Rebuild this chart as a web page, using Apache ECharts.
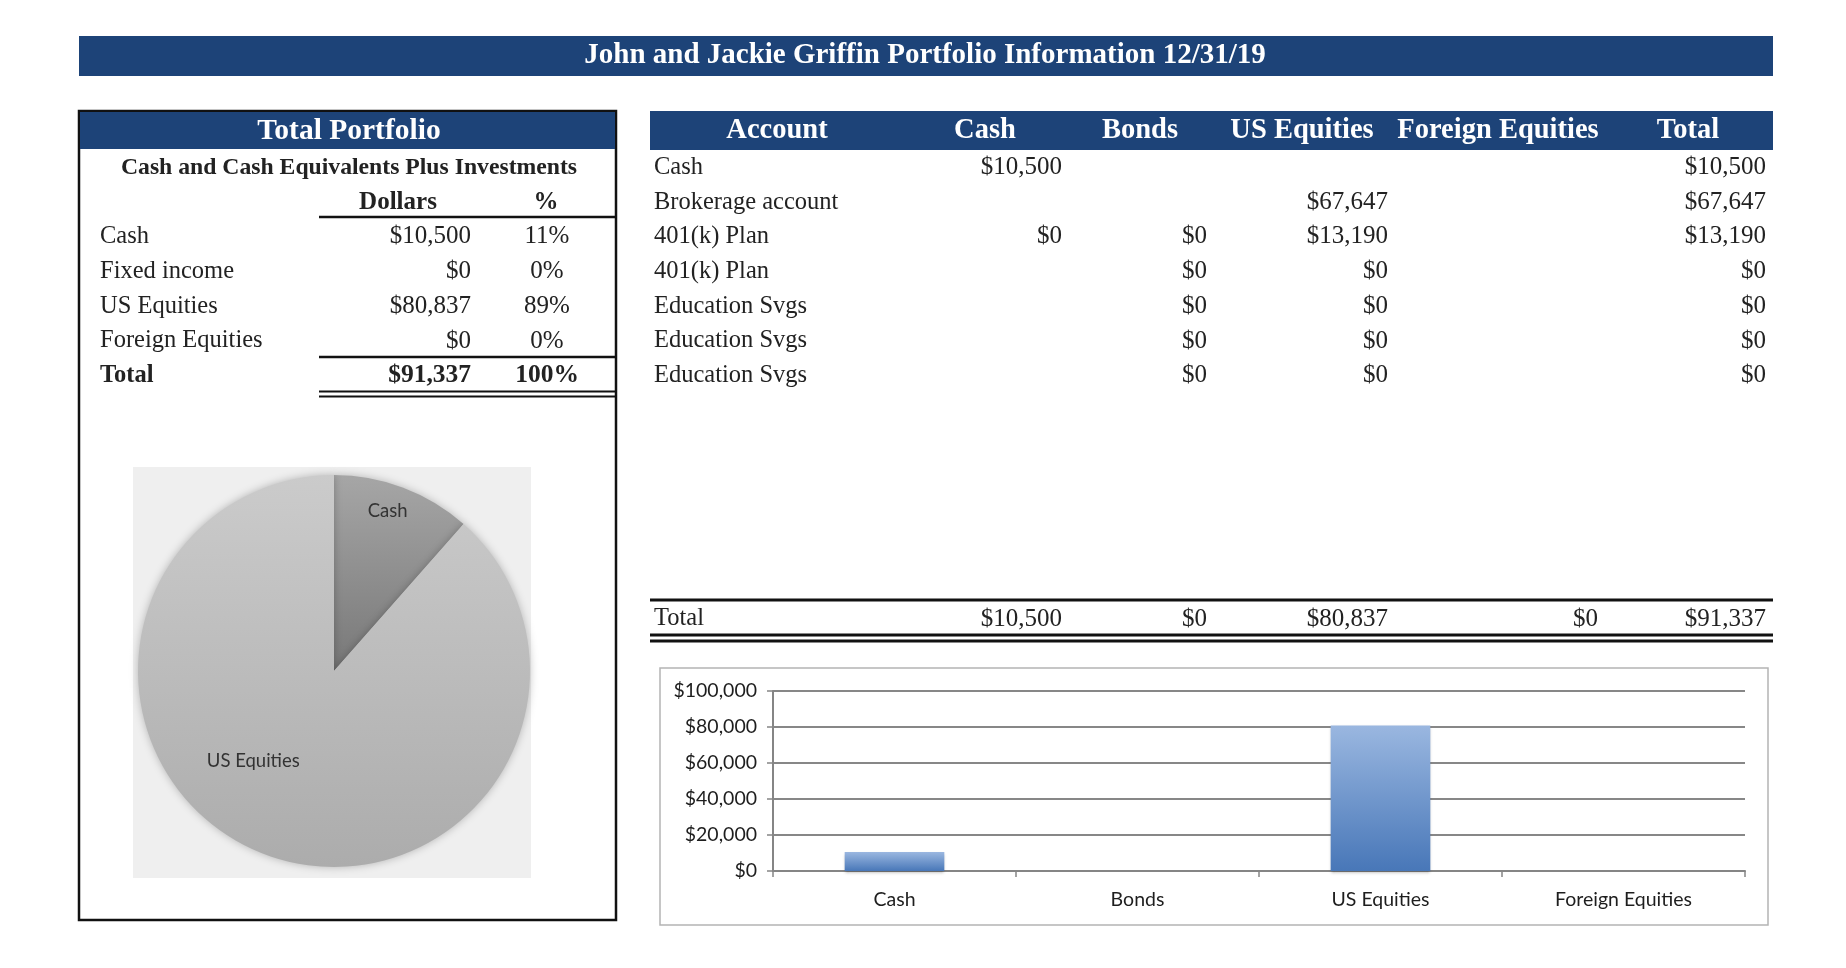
<!DOCTYPE html>
<html>
<head>
<meta charset="utf-8">
<script src="https://cdn.jsdelivr.net/npm/echarts@6/dist/echarts.min.js"></script>
<style>
    html, body { margin: 0; padding: 0; background: #fff; }
    #main { width: 1846px; height: 968px; }
</style>
</head>
<body>
<div id="main"></div>
<script type="text/javascript">
// asset allocation (left table, pie, bars)
var assetClasses = ['Cash', 'Fixed income', 'US Equities', 'Foreign Equities'];
var assetDollars = [10500, 0, 80837, 0];

// accounts table
var accounts = ['Cash', 'Brokerage account', '401(k) Plan', '401(k) Plan', 'Education Svgs', 'Education Svgs', 'Education Svgs'];
var acctCash = [10500, null, 0, null, null, null, null];
var acctBonds = [null, null, 0, 0, 0, 0, 0];
var acctUsEquities = [null, 67647, 13190, 0, 0, 0, 0];
var acctForeign = [null, null, null, null, null, null, null];
var acctTotal = [10500, 67647, 13190, 0, 0, 0, 0];
var tableHeads = ['Account', 'Cash', 'Bonds', 'US Equities', 'Foreign Equities', 'Total'];

// bar chart
var barCategories = ['Cash', 'Bonds', 'US Equities', 'Foreign Equities'];
var barValues = [10500, 0, 80837, 0];

var BLUE = '#1d4378';
var SERIF = '"Liberation Serif", "DejaVu Serif", serif';
var SANS = 'Lato, "Open Sans", sans-serif';

function money(v) {
    return '$' + Math.round(v).toString().replace(/\B(?=(\d{3})+(?!\d))/g, ',');
}
function sum(a) {
    return a.reduce(function (s, v) { return s + (v || 0); }, 0);
}

var g = [];
function txt(x, y, s, opt) {
    opt = opt || {};
    var al = opt.align || 'left';
    g.push({
        type: 'text', z: 10,
        style: {
            text: s, x: x, y: y,
            font: (opt.bold ? 'bold ' : '') + (opt.size || 24) + 'px ' + (opt.family || SERIF),
            fill: opt.color || '#222',
            align: al, textAlign: al,
            verticalAlign: 'middle', textVerticalAlign: 'middle'
        }
    });
}
function hline(x1, x2, y, w, c) {
    g.push({ type: 'line', z: 9, shape: { x1: x1, y1: y, x2: x2, y2: y }, style: { stroke: c || '#111', lineWidth: w || 2 } });
}
function box(x, y, w, h, fill, stroke, lw, z) {
    g.push({ type: 'rect', z: z || 1, shape: { x: x, y: y, width: w, height: h },
        style: { fill: fill || 'none', stroke: stroke || null, lineWidth: lw || 0 } });
}

var LBL = 24.5, NUM = 25;

// title bar
box(79, 36, 1694, 40, BLUE);
txt(925, 56, 'John and Jackie Griffin Portfolio Information 12/31/19', { bold: true, size: 29, color: '#fff', align: 'center' });

// left panel
box(79, 111, 537, 809, 'none', '#111', 2.5, 2);
box(80, 112, 535, 37, BLUE, null, 0, 3);
txt(349, 131, 'Total Portfolio', { bold: true, size: 29.5, color: '#fff', align: 'center' });
txt(349, 168, 'Cash and Cash Equivalents Plus Investments', { bold: true, size: 23.7, color: '#222', align: 'center' });

var rowY = [];
for (var i = 0; i < 7; i++) rowY.push(167.5 + i * 34.7);

txt(398, rowY[1], 'Dollars', { bold: true, size: 25, align: 'center' });
txt(546, rowY[1], '%', { bold: true, size: 25, align: 'center' });
hline(319, 616, 217, 2.5);

var grand = sum(assetDollars);
assetClasses.forEach(function (name, i) {
    var y = rowY[i + 2];
    txt(100, y, name, { size: LBL });
    txt(471, y, money(assetDollars[i]), { size: NUM, align: 'right' });
    txt(547, y, Math.round(assetDollars[i] / grand * 100) + '%', { size: NUM, align: 'center' });
});
hline(319, 616, 357, 2.5);
txt(100, rowY[6], 'Total', { size: LBL, bold: true });
txt(471, rowY[6], money(grand), { size: 25.5, bold: true, align: 'right' });
txt(547, rowY[6], '100%', { size: 25.5, bold: true, align: 'center' });
hline(319, 616, 391.5, 2);
hline(319, 616, 396.5, 2);

// pie backdrop
box(133, 467, 398, 411, '#efefef', null, 0, 0);

// accounts table
box(650, 111, 1123, 39, BLUE, null, 0, 3);
var headX = [777, 985, 1140, 1302, 1498, 1688];
tableHeads.forEach(function (h, i) {
    txt(headX[i], 131, h, { bold: true, size: 28.5, color: '#fff', align: 'center' });
});
var colRight = [1062, 1207, 1388, 1598, 1766];
var cols = [acctCash, acctBonds, acctUsEquities, acctForeign, acctTotal];
accounts.forEach(function (name, r) {
    txt(654, rowY[r], name, { size: LBL });
    cols.forEach(function (col, c) {
        if (col[r] !== null) txt(colRight[c], rowY[r], money(col[r]), { size: NUM, align: 'right' });
    });
});
hline(650, 1773, 600, 3);
txt(654, 619, 'Total', { size: LBL });
cols.forEach(function (col, c) {
    txt(colRight[c], 619, money(sum(col)), { size: NUM, align: 'right' });
});
hline(650, 1773, 635, 3);
hline(650, 1773, 641, 3);

// bar chart frame (no fill so the axes show through)
box(660, 668, 1108, 257, 'none', '#b4b4b4', 1.5, 0);

var pieColors = {
    'Cash': new echarts.graphic.LinearGradient(0, 0, 0, 1, [
        { offset: 0, color: '#a6a6a6' }, { offset: 1, color: '#787878' }]),
    'US Equities': new echarts.graphic.LinearGradient(0, 0, 0, 1, [
        { offset: 0, color: '#cbcbcb' }, { offset: 1, color: '#acacac' }])
};
// nudge the in-slice labels to where they sit in the original
var pieShift = {
    'Cash': [18, -65],
    'US Equities': [-45, -4]
};
var pieData = [];
assetClasses.forEach(function (name, i) {
    if (assetDollars[i] > 0) {
        pieData.push({ name: name, value: assetDollars[i], itemStyle: { color: pieColors[name] } });
    }
});

var myChart = echarts.init(document.getElementById('main'), null, { renderer: 'canvas' });
var option = {
    backgroundColor: '#fff',
    animation: false,
    graphic: g,
    grid: { left: 773, right: 101, top: 691, bottom: 97, containLabel: false },
    xAxis: {
        type: 'category',
        data: barCategories,
        axisLine: { lineStyle: { color: '#858585', width: 2 } },
        axisTick: { show: true, length: 6, alignWithLabel: false, lineStyle: { color: '#858585', width: 1.5 } },
        axisLabel: { color: '#1e1e1e', fontFamily: SANS, fontSize: 19.5, margin: 19 }
    },
    yAxis: {
        type: 'value',
        min: 0, max: 100000, interval: 20000,
        axisLine: { show: true, lineStyle: { color: '#858585', width: 2 } },
        axisTick: { show: true, length: 6, lineStyle: { color: '#858585', width: 1.5 } },
        axisLabel: { color: '#1e1e1e', fontFamily: SANS, fontSize: 19.5, margin: 16,
            formatter: function (v) { return money(v); } },
        splitLine: { lineStyle: { color: '#878787', width: 1.8 } }
    },
    series: [{
        type: 'bar',
        z: 20,
        data: barValues,
        barWidth: '41%',
        itemStyle: {
            color: new echarts.graphic.LinearGradient(0, 0, 0, 1, [
                { offset: 0, color: '#9ab7e0' }, { offset: 1, color: '#4877b8' }]),
            shadowBlur: 3, shadowColor: 'rgba(0,0,0,0.3)', shadowOffsetY: 1.5
        }
    }, {
        type: 'pie',
        z: 20,
        center: [334, 671],
        radius: 196,
        startAngle: 90,
        clockwise: true,
        data: pieData,
        label: {
            show: true,
            position: 'inside',
            formatter: '{b}',
            color: '#333',
            fontFamily: SANS,
            fontSize: 18.5
        },
        labelLayout: function (p) {
            var s = pieShift[pieData[p.dataIndex].name];
            return { dx: s[0], dy: s[1] };
        },
        labelLine: { show: false },
        itemStyle: {
            borderWidth: 0,
            shadowBlur: 8, shadowColor: 'rgba(0,0,0,0.25)'
        }
    }]
};
myChart.setOption(option);
</script>
</body>
</html>
